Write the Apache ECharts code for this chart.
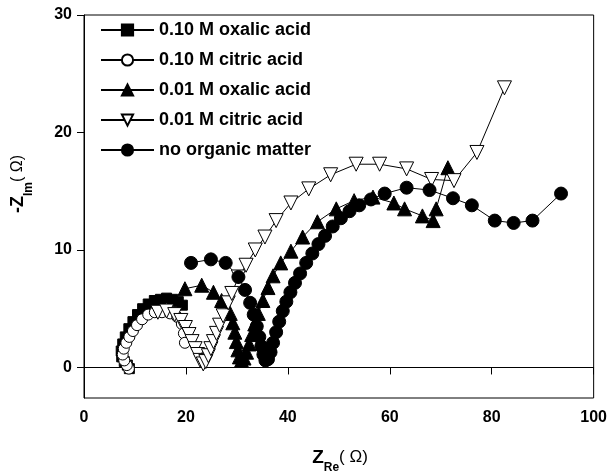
<!DOCTYPE html>
<html>
<head>
<meta charset="utf-8">
<script src="https://cdn.jsdelivr.net/npm/echarts@6/dist/echarts.min.js"></script>
<style>html,body{margin:0;padding:0;background:#fff}#c{width:610px;height:473px}</style>
</head>
<body>
<div id="c"></div>
<script>
// [Z_Re, -Z_Im] pairs
const oxalic010 = [[8.9,-0.1],[8.5,0.2],[7.9,0.5],[7.4,0.9],[7.3,1.4],[7.6,2.0],[8.1,2.6],[8.8,3.3],[9.6,3.9],[10.5,4.5],[11.5,5.0],[12.6,5.4],[13.8,5.7],[15.0,5.8],[16.2,5.9],[17.4,5.8],[18.5,5.6],[19.3,5.3]];
const citric010 = [[8.8,-0.1],[8.4,0.2],[7.9,0.6],[7.6,1.1],[7.8,1.6],[8.3,2.1],[8.9,2.6],[9.6,3.1],[10.4,3.6],[11.4,4.1],[12.6,4.5],[13.9,4.7],[15.3,4.7],[16.9,4.6],[18.3,4.3],[19.2,3.7],[19.6,2.9],[19.8,2.1]];
const oxalic001 = [[19.8,6.7],[23.1,7.0],[25.4,6.4],[27.0,5.7],[28.7,4.6],[29.2,3.8],[29.6,3.0],[29.9,2.2],[30.2,1.5],[30.5,0.9],[30.9,0.6],[31.4,0.8],[31.9,1.3],[32.4,2.0],[32.9,2.8],[33.5,3.7],[34.2,4.6],[35.1,5.7],[36.1,6.8],[37.1,7.8],[38.6,8.9],[40.6,9.9],[42.9,11.1],[45.8,12.4],[49.5,13.5],[53.0,14.2],[56.7,14.5],[60.8,14.0],[62.9,13.5],[66.4,12.9],[68.5,12.5],[69.1,13.5],[71.4,17.0]];
const citric001 = [[14.5,4.7],[16.2,4.8],[17.8,4.5],[19.0,4.0],[19.9,3.4],[20.6,2.8],[21.2,2.2],[21.8,1.6],[22.3,1.1],[22.8,0.6],[23.4,0.3],[23.9,0.5],[24.4,1.0],[24.9,1.6],[25.4,2.2],[26.0,2.9],[26.6,3.6],[27.3,4.4],[28.3,5.5],[29.0,6.3],[30.3,7.7],[31.8,8.7],[33.6,10.0],[35.5,11.1],[37.7,12.5],[40.6,14.0],[44.1,15.2],[48.4,16.4],[53.4,17.3],[58.0,17.3],[63.3,16.9],[68.2,16.0],[72.6,15.9],[77.1,18.3],[82.5,23.8]];
const noOrganic = [[21.0,8.9],[24.9,9.2],[27.8,8.9],[30.3,7.7],[31.6,6.6],[32.6,5.5],[33.3,4.5],[33.9,3.5],[34.4,2.6],[34.8,1.8],[35.2,1.1],[35.6,0.6],[36.1,0.7],[36.6,1.3],[37.1,2.1],[37.7,3.0],[38.3,3.9],[39.0,4.8],[39.7,5.6],[40.5,6.4],[41.4,7.2],[42.4,8.0],[43.6,8.9],[44.8,9.7],[46.0,10.5],[47.3,11.2],[48.8,12.0],[50.4,12.7],[52.1,13.3],[54.0,13.8],[56.3,14.3],[59.0,14.8],[63.3,15.3],[67.8,15.1],[72.4,14.4],[76.1,13.8],[80.6,12.5],[84.3,12.3],[88.0,12.5],[93.6,14.8]];
const yTicks = [0, 10, 20, 30];

const FONT = "'Liberation Sans', Arial, sans-serif";
const chart = echarts.init(document.getElementById('c'));
const mk = (name, data, symbol, size, fill)=>({
  name, type:'line', data, symbol, symbolSize:size, showSymbol:true,
  lineStyle:{ color:'#000', width:1 },
  itemStyle:{ color:fill, borderColor:'#000', borderWidth:1 },
  emphasis:{ disabled:true }, animation:false
});
chart.setOption({
  backgroundColor:'#fff',
  grid:{ left:84, right:11, top:15, bottom:75, show:true, borderColor:'#000', borderWidth:1 },
  legend:{ orient:'vertical', left:100, top:21, padding:0, itemWidth:53, itemHeight:14, itemGap:12,
    textStyle:{ fontFamily:FONT, fontWeight:'bold', fontSize:18, color:'#000' } },
  xAxis:{ type:'value', min:0, max:100, interval:20,
    axisLine:{ lineStyle:{ color:'#000' } }, axisTick:{ length:7, lineStyle:{ color:'#000' } },
    splitLine:{ show:false },
    axisLabel:{ fontFamily:FONT, fontWeight:'bold', fontSize:16, color:'#000', margin:12 } },
  yAxis:{ type:'value', min:-2.6, max:30,
    axisLine:{ show:true, lineStyle:{ color:'#000' } },
    axisTick:{ show:true, length:7, customValues:yTicks, lineStyle:{ color:'#000' } },
    splitLine:{ show:false },
    axisLabel:{ customValues:yTicks, fontFamily:FONT, fontWeight:'bold', fontSize:16, color:'#000', margin:12 } },
  graphic:[
    { type:'text', x:340, y:461, style:{ text:'{z|Z}{s|Re}{p|( Ω)}', align:'center', verticalAlign:'middle',
      rich:{ z:{ fontFamily:FONT, fontWeight:'bold', fontSize:19, lineHeight:20, verticalAlign:'top' },
             s:{ fontFamily:FONT, fontWeight:'bold', fontSize:12, lineHeight:25, verticalAlign:'bottom' },
             p:{ fontFamily:FONT, fontSize:17, lineHeight:20, verticalAlign:'top' } } } },
    { type:'text', x:22, y:184, rotation:Math.PI/2, style:{ text:'{z|-Z}{s|Im}{p|( Ω)}', align:'center', verticalAlign:'middle',
      rich:{ z:{ fontFamily:FONT, fontWeight:'bold', fontSize:18, lineHeight:20, verticalAlign:'top' },
             s:{ fontFamily:FONT, fontWeight:'bold', fontSize:12, lineHeight:25, verticalAlign:'bottom' },
             p:{ fontFamily:FONT, fontSize:16, lineHeight:20, verticalAlign:'top' } } } }
  ],
  series:[
    mk('0.10 M oxalic acid', oxalic010, 'rect', 10, '#000'),
    mk('0.10 M citric acid', citric010, 'circle', 11, '#fff'),
    mk('0.01 M oxalic acid', oxalic001, 'triangle', 14, '#000'),
    mk('0.01 M citric acid', citric001, 'path://M0,0 L14,0 L7,12 Z', 14, '#fff'),
    mk('no organic matter', noOrganic, 'circle', 13, '#000')
  ]
});
</script>
</body>
</html>
